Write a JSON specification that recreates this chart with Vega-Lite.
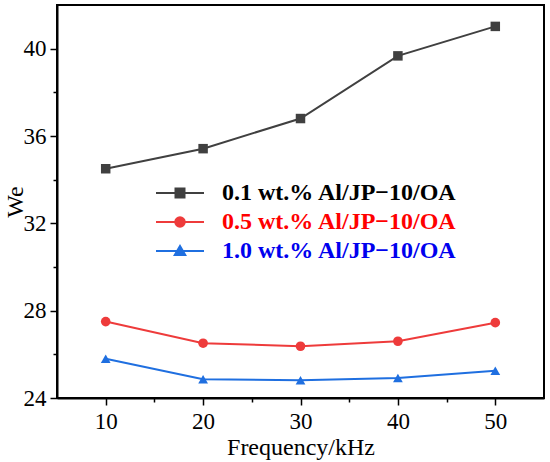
{
  "$schema": "https://vega.github.io/schema/vega-lite/v6.json",
  "width": 487,
  "height": 393,
  "autosize": {"type": "none"},
  "padding": {"left": 57, "top": 5, "right": 6, "bottom": 64},
  "background": "white",
  "config": {
    "view": {"stroke": "black", "strokeWidth": 2},
    "axis": {
      "grid": false,
      "labelFont": "Liberation Serif",
      "labelFontSize": 23,
      "labelColor": "black",
      "titleFont": "Liberation Serif",
      "titleFontSize": 24,
      "titleFontWeight": "normal",
      "titleColor": "black",
      "domainColor": "black",
      "domainWidth": 2,
      "tickColor": "black",
      "tickWidth": 1.5
    }
  },
  "data": {
    "values": [
      {"f": 10, "we": 34.5, "series": "0.1 wt.% Al/JP−10/OA"},
      {"f": 20, "we": 35.42, "series": "0.1 wt.% Al/JP−10/OA"},
      {"f": 30, "we": 36.8, "series": "0.1 wt.% Al/JP−10/OA"},
      {"f": 40, "we": 39.67, "series": "0.1 wt.% Al/JP−10/OA"},
      {"f": 50, "we": 41.02, "series": "0.1 wt.% Al/JP−10/OA"},
      {"f": 10, "we": 27.5, "series": "0.5 wt.% Al/JP−10/OA"},
      {"f": 20, "we": 26.51, "series": "0.5 wt.% Al/JP−10/OA"},
      {"f": 30, "we": 26.37, "series": "0.5 wt.% Al/JP−10/OA"},
      {"f": 40, "we": 26.6, "series": "0.5 wt.% Al/JP−10/OA"},
      {"f": 50, "we": 27.45, "series": "0.5 wt.% Al/JP−10/OA"},
      {"f": 10, "we": 25.8, "series": "1.0 wt.% Al/JP−10/OA"},
      {"f": 20, "we": 24.86, "series": "1.0 wt.% Al/JP−10/OA"},
      {"f": 30, "we": 24.81, "series": "1.0 wt.% Al/JP−10/OA"},
      {"f": 40, "we": 24.92, "series": "1.0 wt.% Al/JP−10/OA"},
      {"f": 50, "we": 25.25, "series": "1.0 wt.% Al/JP−10/OA"}
    ]
  },
  "encoding": {
    "x": {
      "field": "f",
      "type": "quantitative",
      "title": "Frequency/kHz",
      "scale": {"domain": [5, 55], "nice": false, "zero": false},
      "axis": {
        "values": [10, 15, 20, 25, 30, 35, 40, 45, 50],
        "labelExpr": "datum.value % 10 == 0 ? datum.label : ''",
        "tickSize": {"condition": {"test": "datum.value % 10 == 0", "value": 7}, "value": 4},
        "labelPadding": 5,
        "titlePadding": 2
      }
    },
    "y": {
      "field": "we",
      "type": "quantitative",
      "title": "We",
      "scale": {"domain": [24, 42], "nice": false, "zero": false},
      "axis": {
        "values": [24, 26, 28, 30, 32, 34, 36, 38, 40],
        "labelExpr": "datum.value % 4 == 0 ? datum.label : ''",
        "tickSize": {"condition": {"test": "datum.value % 4 == 0", "value": 7}, "value": 4},
        "labelPadding": 4,
        "titlePadding": -4
      }
    },
    "color": {
      "field": "series",
      "type": "nominal",
      "scale": {"range": ["#404040", "#ee3b3b", "#1f6fe0"]},
      "legend": {
        "title": null,
        "orient": "none",
        "legendX": 111,
        "legendY": 176,
        "padding": 0,
        "symbolSize": 100,
        "symbolStrokeWidth": 2,
        "labelFont": "Liberation Serif",
        "labelFontSize": 24,
        "labelFontWeight": "bold",
        "labelLimit": 400,
        "labelOffset": 30,
        "rowPadding": 5,
        "encode": {
          "symbols": {
            "update": {
              "shape": {"signal": "slice(datum.value, 0, 3) == '0.1' ? 'M-4.8,0H4.8M-0.9,-0.9H0.9V0.9H-0.9Z' : slice(datum.value, 0, 3) == '0.5' ? 'M-4.8,0H4.8M0.95,0A0.95,0.95,0,1,1,-0.95,0A0.95,0.95,0,1,1,0.95,0Z' : 'M-4.8,0H4.8M0,-1.0L1.05,0.8L-1.05,0.8Z'"},
              "fill": {"signal": "slice(datum.value, 0, 3) == '0.1' ? '#404040' : slice(datum.value, 0, 3) == '0.5' ? '#ee3b3b' : '#1f6fe0'"},
              "stroke": {"signal": "slice(datum.value, 0, 3) == '0.1' ? '#404040' : slice(datum.value, 0, 3) == '0.5' ? '#ee3b3b' : '#1f6fe0'"}
            }
          },
          "labels": {
            "update": {
              "fill": {"signal": "slice(datum.value, 0, 3) == '0.1' ? '#000000' : slice(datum.value, 0, 3) == '0.5' ? '#ff0000' : '#0000ee'"}
            }
          }
        }
      }
    }
  },
  "layer": [
    {"mark": {"type": "line", "strokeWidth": 2}},
    {
      "mark": {"type": "point", "filled": true, "opacity": 1},
      "encoding": {
        "shape": {
          "field": "series",
          "type": "nominal",
          "scale": {"range": ["square", "circle", "triangle-up"]},
          "legend": null
        },
        "size": {
          "field": "series",
          "type": "nominal",
          "scale": {"range": [90, 95, 125]},
          "legend": null
        }
      }
    }
  ]
}
